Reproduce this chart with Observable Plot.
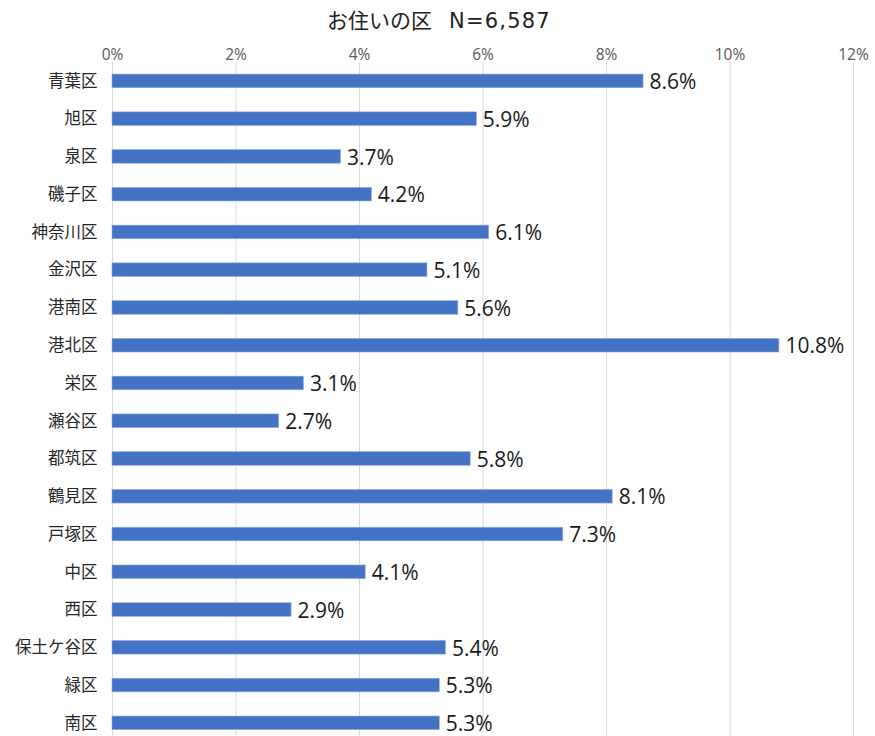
<!DOCTYPE html>
<html>
<head>
<meta charset="utf-8">
<script src="https://cdn.jsdelivr.net/npm/d3@7"></script>
<script src="https://cdn.jsdelivr.net/npm/@observablehq/plot@0.6"></script>
<style>
  body { margin: 0; background: #fff; font-family: "Noto Sans CJK JP", "Noto Sans", sans-serif; }
  #title { position: relative; height: 34px; width: 875px; }
  #title .t { position: absolute; left: 327px; top: 0; line-height: 38px; font-size: 21px; color: #222; white-space: nowrap; }
  #title .n { font-family: "DejaVu Sans", sans-serif; letter-spacing: 1.2px; margin-left: 17px; font-size: 21px; }
</style>
</head>
<body>
<div id="title"><span class="t">お住いの区<span class="n">N=6,587</span></span></div>
<div id="chart"></div>
<script>
const wards = ["青葉区","旭区","泉区","磯子区","神奈川区","金沢区","港南区","港北区","栄区","瀬谷区","都筑区","鶴見区","戸塚区","中区","西区","保土ケ谷区","緑区","南区"];
const shares = [8.6,5.9,3.7,4.2,6.1,5.1,5.6,10.8,3.1,2.7,5.8,8.1,7.3,4.1,2.9,5.4,5.3,5.3];
const xTicks = [0,2,4,6,8,10,12];

const data = wards.map((w, i) => ({ward: w, value: shares[i]}));

const chart = Plot.plot({
  width: 875,
  height: 702,
  marginLeft: 112,
  marginRight: 22,
  marginTop: 28,
  marginBottom: 0,
  style: { fontFamily: '"Noto Sans CJK JP", "Noto Sans", sans-serif', background: "#fff" },
  x: { domain: [0, 12], range: [112, 853], axis: null, label: null },
  y: { domain: wards, range: [28, 707.7], paddingInner: 0.64, paddingOuter: 0.32, round: false, axis: null, label: null },
  marks: [
    Plot.ruleX(xTicks, { stroke: "#d9d9d9", strokeWidth: 1 }),
    Plot.text(xTicks, { x: d => d, frameAnchor: "top", dy: -14, text: d => d + "%", fontSize: 15.5, fontFamily: '"Open Sans", sans-serif', fill: "#595959" }),
    Plot.axisY({ label: null, tickSize: 0, tickPadding: 15, fontSize: 16.5, fill: "#262626" }),
    Plot.barX(data, { x: "value", y: "ward", fill: "#4472C4", stroke: "#8eaadb", strokeWidth: 0.6 }),
    Plot.text(data, { x: "value", y: "ward", text: d => d.value.toFixed(1) + "%", textAnchor: "start", dx: 6, dy: 1, fontSize: 21, fontFamily: '"Open Sans", sans-serif', fill: "#1a1a1a" })
  ]
});
document.getElementById("chart").appendChild(chart);
</script>
</body>
</html>
